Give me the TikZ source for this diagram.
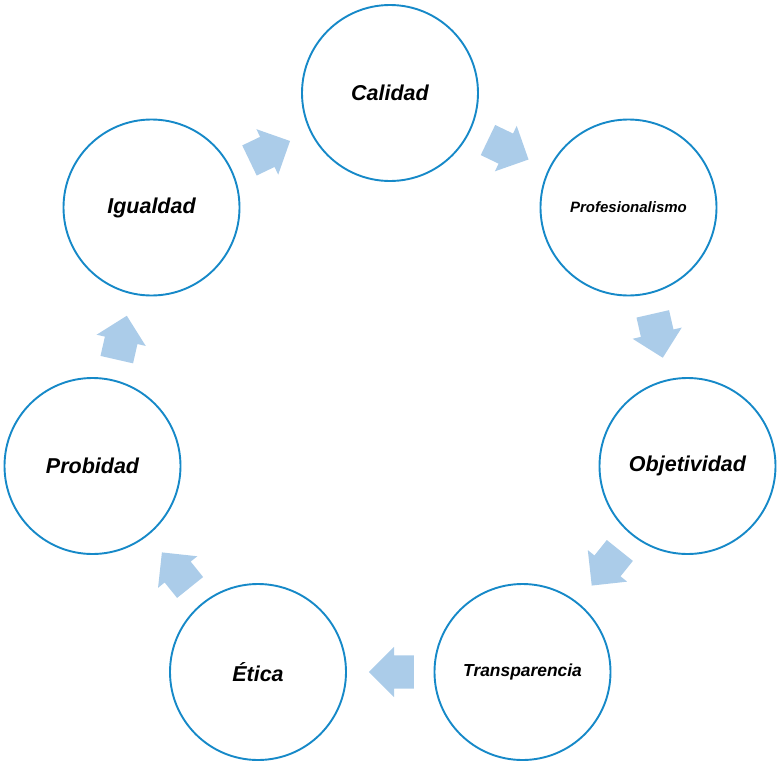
\documentclass[tikz,border=0pt]{standalone}
\usepackage{fontspec}
\setmainfont{Liberation Sans}
\usetikzlibrary{shapes.arrows}
\definecolor{ringblue}{RGB}{22,137,200}
\definecolor{arrowblue}{RGB}{171,204,233}

\begin{document}
\begin{tikzpicture}[x=1pt,y=-1pt,
  value/.style={circle,draw=ringblue,line width=1.9pt,fill=white,minimum size=176pt,inner sep=0pt,
    font=\bfseries\itshape\fontsize{21.5}{24}\selectfont},
  flow/.style={single arrow,fill=arrowblue,draw=none,minimum height=45pt,
    inner xsep=0pt,inner ysep=16.5pt,single arrow head extend=8.5pt,
    sloped,allow upside down,anchor=tip,pos=0.75}]
\useasboundingbox (0,0) rectangle (777,763);
%%
\node (node_calidad) at (390,93) [value] {Calidad};
\node (node_profesionalismo) at (628.5,207.5) [value,font=\bfseries\itshape\fontsize{15}{18}\selectfont] {Profesionalismo};
\node (node_objetividad) at (687.5,466) [value] {Objetividad};
\node (node_transparencia) at (522.5,672) [value,font=\bfseries\itshape\fontsize{17.4}{20}\selectfont] {Transparencia};
\node (node_etica) at (258,672) [value] {Ética};
\node (node_probidad) at (92.5,466) [value] {Probidad};
\node (node_igualdad) at (151.5,207.5) [value] {Igualdad};
%
\path (node_igualdad) -- node[flow] (flow_1) {} (node_calidad);
\path (node_calidad) -- node[flow] (flow_2) {} (node_profesionalismo);
\path (node_profesionalismo) -- node[flow] (flow_3) {} (node_objetividad);
\path (node_objetividad) -- node[flow] (flow_4) {} (node_transparencia);
\path (node_transparencia) -- node[flow] (flow_5) {} (node_etica);
\path (node_etica) -- node[flow] (flow_6) {} (node_probidad);
\path (node_probidad) -- node[flow] (flow_7) {} (node_igualdad);
%
\end{tikzpicture}
\end{document}
